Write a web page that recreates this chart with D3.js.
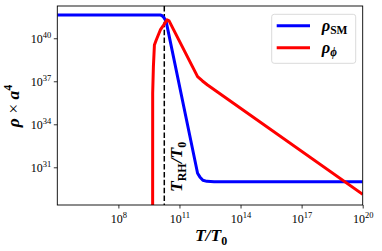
<!DOCTYPE html>
<html>
<head>
<meta charset="utf-8">
<script src="https://cdn.jsdelivr.net/npm/d3@7"></script>
<style>
  body { margin: 0; background: #fff; }
  text { font-family: "Liberation Serif", "DejaVu Serif", serif; }
</style>
</head>
<body>
<svg width="382" height="251"></svg>
<script>
// values, as log10 exponents
const smLogT   = [5, 10.05, 10.15, 10.25, 10.35, 11.89, 12.0, 12.15, 12.35, 12.7, 20];
const smLogRho = [41.63, 41.63, 41.57, 41.42, 41.14, 30.58, 30.33, 30.10, 30.02, 30.0, 30.0];

const phiLogT   = [9.68, 9.685, 9.72, 9.77, 9.86, 10.06, 10.23, 10.39, 10.49, 11.89, 12.13, 12.38, 20];
const phiLogRho = [20, 36.18, 38.02, 39.53, 39.88, 40.58, 40.93, 41.28, 41.21, 37.32, 37.02, 36.74, 29.11];

const logTRH = 10.255;
const xTickExp = [8, 11, 14, 17, 20];
const yTickExp = [31, 34, 37, 40];

const svg = d3.select("svg");
const margin = {top: 6, right: 19.3, bottom: 46, left: 57.3};
const width  = 382 - margin.left - margin.right;
const height = 251 - margin.top - margin.bottom;

const g = svg.append("g").attr("transform", "translate(" + margin.left + "," + margin.top + ")");

const x = d3.scaleLog().domain([1e5, 1e20]).range([0, width]);
const y = d3.scaleLog().domain([Math.pow(10, 28.37), Math.pow(10, 42.25)]).range([height, 0]);

g.append("clipPath").attr("id", "clip")
  .append("rect").attr("width", width).attr("height", height);

const toPts = (lt, lr) => lt.map((t, i) => [Math.pow(10, t), Math.pow(10, lr[i])]);

const line = d3.line()
  .x(d => x(d[0]))
  .y(d => y(d[1]));

const plot = g.append("g").attr("clip-path", "url(#clip)");

// reheating temperature
plot.append("line")
  .attr("x1", x(Math.pow(10, logTRH))).attr("x2", x(Math.pow(10, logTRH)))
  .attr("y1", 0).attr("y2", height)
  .attr("stroke", "#000").attr("stroke-width", 1.5)
  .attr("stroke-dasharray", "5.5,2.4");

plot.append("path")
  .datum(toPts(smLogT, smLogRho))
  .attr("fill", "none").attr("stroke", "#0000ff")
  .attr("stroke-width", 3).attr("stroke-linejoin", "round")
  .attr("d", line);

plot.append("path")
  .datum(toPts(phiLogT, phiLogRho))
  .attr("fill", "none").attr("stroke", "#ff0000")
  .attr("stroke-width", 3).attr("stroke-linejoin", "round")
  .attr("d", line);

// frame
g.append("rect").attr("width", width).attr("height", height)
  .attr("fill", "none").attr("stroke", "#000").attr("stroke-width", 0.9);

// axes
const xAxis = g.append("g")
  .attr("transform", "translate(0," + height + ")")
  .call(d3.axisBottom(x).tickValues(xTickExp.map(e => Math.pow(10, e))).tickSize(3.5).tickSizeOuter(0).tickFormat(() => ""));
const yAxis = g.append("g")
  .call(d3.axisLeft(y).tickValues(yTickExp.map(e => Math.pow(10, e))).tickSize(3.5).tickSizeOuter(0).tickFormat(() => ""));

[xAxis, yAxis].forEach(a => {
  a.select(".domain").remove();
  a.selectAll(".tick line").attr("stroke", "#000").attr("stroke-width", 0.8);
});

function powLabel(sel, e) {
  sel.append("tspan").text("10");
  sel.append("tspan").attr("dy", -5).attr("font-size", 8.5).text(e);
}

xAxis.selectAll(".tick").each(function(d, i) {
  const t = d3.select(this).append("text")
    .attr("y", 18).attr("fill", "#000")
    .attr("font-size", 12).attr("text-anchor", "middle");
  powLabel(t, xTickExp[i]);
});

yAxis.selectAll(".tick").each(function(d, i) {
  const t = d3.select(this).append("text")
    .attr("x", -6).attr("y", 4.5).attr("fill", "#000")
    .attr("font-size", 12).attr("text-anchor", "end");
  powLabel(t, yTickExp[i]);
});

// axis labels
const xl = svg.append("text")
  .attr("x", 211).attr("y", 241)
  .attr("text-anchor", "middle").attr("font-size", 17.5)
  .attr("font-weight", "bold").attr("font-style", "italic");
xl.append("tspan").text("T/T");
xl.append("tspan").attr("dy", 3.5).attr("font-size", 12).attr("font-style", "normal").text("0");

const yl = svg.append("text")
  .attr("transform", "translate(19,106) rotate(-90)")
  .attr("text-anchor", "middle").attr("font-size", 17.5)
  .attr("font-weight", "bold").attr("font-style", "italic");
yl.append("tspan").text("ρ ");
yl.append("tspan").attr("font-style", "normal").attr("font-weight", "normal").text("×");
yl.append("tspan").text(" a");
yl.append("tspan").attr("dy", -7).attr("font-size", 12).attr("font-style", "normal").text("4");

// T_RH label
const tl = g.append("text")
  .attr("transform", "translate(" + (x(Math.pow(10, logTRH)) + 18) + "," + 186 + ") rotate(-90)")
  .attr("font-size", 17.5).attr("font-weight", "bold").attr("font-style", "italic");
tl.append("tspan").text("T");
tl.append("tspan").attr("dy", 3.5).attr("font-size", 12).attr("font-style", "normal").text("RH");
tl.append("tspan").attr("dy", -3.5).text("/T");
tl.append("tspan").attr("dy", 3.5).attr("font-size", 12).attr("font-style", "normal").text("0");

// legend
const lg = svg.append("g").attr("transform", "translate(271.7,14.3)");
lg.append("rect").attr("width", 84).attr("height", 49).attr("rx", 2.5)
  .attr("fill", "#fff").attr("fill-opacity", 0.8)
  .attr("stroke", "#d6d6d6").attr("stroke-width", 0.9);

const legendItems = [
  {color: "#0000ff", sub: "SM"},
  {color: "#ff0000", sub: "ϕ"}
];
legendItems.forEach((d, i) => {
  const yy = 11.5 + i * 22;
  lg.append("line").attr("x1", 5).attr("x2", 38.3).attr("y1", yy).attr("y2", yy)
    .attr("stroke", d.color).attr("stroke-width", 3);
  const t = lg.append("text").attr("x", 50).attr("y", yy + 5)
    .attr("font-size", 16.5).attr("font-weight", "bold").attr("font-style", "italic");
  t.append("tspan").text("ρ");
  t.append("tspan").attr("dy", 3.5).attr("font-size", 11.5)
    .attr("font-style", i === 0 ? "normal" : "italic").text(d.sub);
});
</script>
</body>
</html>
